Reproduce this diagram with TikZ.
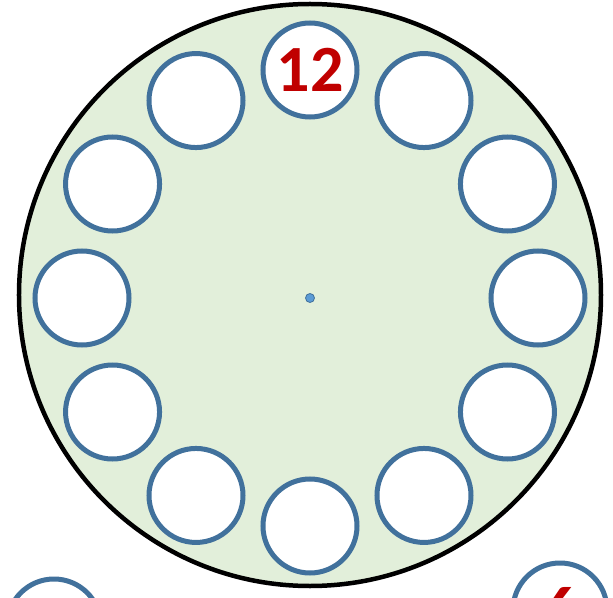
\documentclass[tikz,border=0pt]{standalone}
\usepackage{fontspec}
\setmainfont{Carlito}
\usetikzlibrary{positioning}
\definecolor{dialgreen}{HTML}{E2EFDA}
\definecolor{ringblue}{HTML}{41719C}
\definecolor{dotblue}{HTML}{5B9BD5}
\definecolor{hourred}{HTML}{C00000}

\begin{document}
\begin{tikzpicture}[x=1pt, y=1pt,
    face/.style={circle, draw=black, line width=4.5pt, fill=dialgreen,
                 minimum size=582pt, inner sep=0pt},
    slot/.style={circle, draw=ringblue, line width=5pt, fill=white,
                 minimum size=94pt, inner sep=0pt,
                 font=\fontsize{66}{66}\selectfont\bfseries, text=hourred},
    pivot/.style={circle, draw=ringblue, fill=dotblue, line width=0.8pt,
                  minimum size=9pt, inner sep=0pt}
  ]
  \clip (-310,-299) rectangle (303,298);
  \fill[white] (-310,-299) rectangle (303,298);
  \node[face] (dial) at (0,3) {};
  \node[pivot] (centre) at (0,0) {};
  \foreach \h in {1,...,11}
    \node[slot] (slot\h) at ({90-30*\h}:228) {};
  \node[slot] (slot12) at (90:228) {12};
  \node[slot] (nextleft) at (-256,-328) {};
  \node[slot] (nextright) at (250,-312) {6};
\end{tikzpicture}
\end{document}
